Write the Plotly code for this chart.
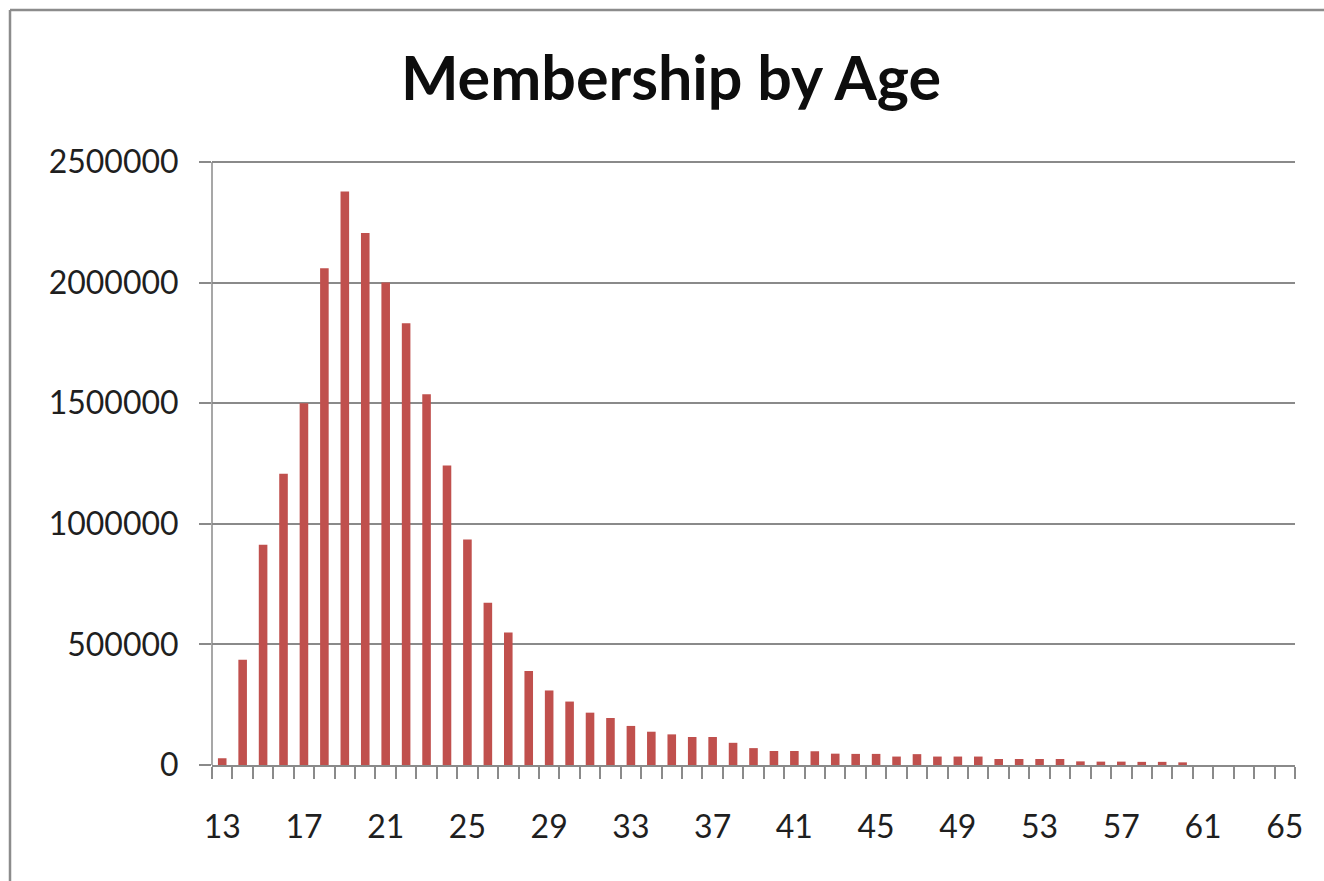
import plotly.graph_objects as go

ages = list(range(13, 66))
members = [
    28000, 436000, 913000, 1208000, 1500000, 2060000, 2378000, 2206000,
    2000000, 1831000, 1537000, 1242000, 935000, 673000, 549000, 390000,
    309000, 263000, 217000, 195000, 162000, 138000, 127000, 116000,
    116000, 92000, 70000, 58000, 58000, 57000, 47000, 46000,
    46000, 35000, 45000, 35000, 35000, 35000, 25000, 25000,
    25000, 25000, 15000, 14000, 14000, 13000, 13000, 11000,
    0, 0, 0, 0, 0,
]
x_tick_labels = ages[::4]
y_tick_values = [0, 500000, 1000000, 1500000, 2000000, 2500000]

W, H = 1324, 881
L, R, T, B = 212, 29, 152, 116
pw, ph = W - L - R, H - T - B
y_top = 2500000 * (H - B - T) / (H - B - 162)

def px(x):
    return (x - L) / pw

def py(y):
    return (H - B - y) / ph

grid = "#8a8a8a"
font_family = "Lato, 'Open Sans', sans-serif"

fig = go.Figure()
fig.add_trace(go.Bar(
    x=ages, y=members, width=0.42,
    marker=dict(color="#C0504D", line=dict(width=0)),
))

fig.update_layout(
    width=W, height=H, autosize=False,
    margin=dict(l=L, r=R, t=T, b=B, pad=0),
    paper_bgcolor="white", plot_bgcolor="white",
    showlegend=False,
    title=dict(
        text="<b>Membership by Age</b>",
        x=671 / W, xref="container", xanchor="center",
        y=1 - 79 / H, yref="container", yanchor="middle",
        font=dict(family=font_family, size=61, color="#0d0d0d"),
    ),
    font=dict(family=font_family, color="#1f1f1f"),
)

fig.update_xaxes(
    type="linear", range=[12.5, 65.5],
    tickmode="array", tickvals=x_tick_labels,
    ticktext=[str(a) for a in x_tick_labels],
    ticks="", showgrid=False, zeroline=False,
    showline=True, linecolor=grid, linewidth=1.5,
    tickfont=dict(size=32, color="#1f1f1f"),
    ticklabelstandoff=33,
    minor=dict(ticks="outside", ticklen=12, tickcolor=grid, tickwidth=1.5,
               tickmode="linear", tick0=12.5, dtick=1, showgrid=False),
)

fig.update_yaxes(
    range=[0, y_top], tickmode="array", tickvals=y_tick_values,
    ticktext=[str(v) for v in y_tick_values],
    ticks="outside", ticklen=12, tickcolor=grid, tickwidth=1.5,
    showgrid=True, gridcolor=grid, gridwidth=1.5,
    zeroline=False, showline=False,
    tickfont=dict(size=32, color="#1f1f1f"),
    ticklabelstandoff=14,
)

# y-axis line from 0 up to the top gridline only (as in the reference)
fig.add_shape(type="line", xref="paper", yref="y",
              x0=0, x1=0, y0=0, y1=y_tick_values[-1],
              line=dict(color=grid, width=1.5))

# chart-area border (top and left edges visible in the reference)
fig.add_shape(type="line", xref="paper", yref="paper",
              x0=px(10), x1=px(W), y0=py(10), y1=py(10),
              line=dict(color="#8c8c8c", width=2.5))
fig.add_shape(type="line", xref="paper", yref="paper",
              x0=px(10), x1=px(10), y0=py(10), y1=py(H),
              line=dict(color="#8c8c8c", width=2.5))

fig.write_html("out.html")
